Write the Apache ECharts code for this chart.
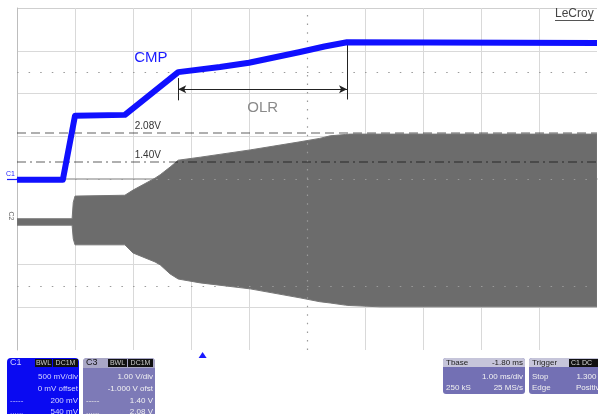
<!DOCTYPE html>
<html><head><meta charset="utf-8">
<script src="https://cdn.jsdelivr.net/npm/echarts@6/dist/echarts.min.js"></script>
<style>html,body{margin:0;padding:0;background:#fff}#c{width:598px;height:414px}</style>
</head><body><div id="c"></div>
<script>
// ---- data (time in ms from left edge of screen, 1 ms/div) ----
// C1 "CMP" trace, volts (500 mV/div, 0 offset)
const cmpTime  = [0, 0.79, 1.0, 1.86, 2.78, 3.5, 4.0, 4.88, 5.3, 5.69, 10];
const cmpVolts = [-0.01, -0.01, 0.74, 0.75, 1.25, 1.31, 1.36, 1.485, 1.55, 1.60, 1.59];
// C3 switching trace envelope, volts (1 V/div, -1 V offset)
const swTime   = [0, 0.95, 0.97, 1.0, 1.86, 2.0, 2.38, 2.47, 2.64, 2.78, 3.16, 4.02, 4.88, 5.22, 5.40, 5.66, 5.74, 6.26, 10];
const swTop    = [0.07, 0.07, 0.45, 0.60, 0.62, 0.74, 1.02, 1.10, 1.28, 1.44, 1.51, 1.68, 1.87, 1.95, 2.01, 2.04, 2.05, 2.05, 2.05];
const swBottom = [-0.08, -0.08, -0.40, -0.54, -0.54, -0.73, -0.94, -1.01, -1.22, -1.34, -1.43, -1.57, -1.78, -1.87, -1.90, -1.95, -1.96, -1.99, -1.99];
// cursor levels (C3 volts) and labels
const cursorLevels = [2.08, 1.40];
const cursorLabels = ['2.08V', '1.40V'];
// OLR annotation (time span and C1 level)
const olrStart = 2.78, olrEnd = 5.69, olrLevel = 1.05;
const triggerTime = 3.2;
// panel texts
const c1Rows = [['', '500 mV/div'], ['', '0 mV offset'], ['-----', '200 mV'], ['......', '540 mV']];
const c3Rows = [['', '1.00 V/div'], ['', '-1.000 V ofst'], ['-----', '1.40 V'], ['......', '2.08 V']];
const tbRows = [['', '1.00 ms/div'], ['250 kS', '25 MS/s']];
const trRows = [['Stop', '1.300 V'], ['Edge', 'Positive']];

const chart = echarts.init(document.getElementById('c'), null, {renderer: 'canvas'});
const font = '"Liberation Sans", Arial, sans-serif';
const T = 'rgba(0,0,0,0)';
const gridCol = '#d9d9d9';

const cmpData = cmpTime.map((t, i) => [t, cmpVolts[i]]);

const option = {
  animation: false,
  backgroundColor: '#fff',
  grid: {left: 17, top: 8, width: 580, height: 342},
  xAxis: {
    type: 'value', min: 0, max: 10, interval: 1,
    axisLabel: {show: false}, axisTick: {show: false},
    axisLine: {show: true, lineStyle: {color: '#a8a8a8', width: 1.5}},
    splitLine: {show: true, lineStyle: {color: ['#c0c0c0', gridCol, gridCol, gridCol, gridCol, T, gridCol, gridCol, gridCol, gridCol, T], width: 1}}
  },
  yAxis: [
    {type: 'value', min: -2, max: 2, interval: 0.5,
     axisLabel: {show: false}, axisTick: {show: false},
     axisLine: {show: true, lineStyle: {color: '#bdbdbd'}},
     splitLine: {show: true, lineStyle: {color: [T, gridCol, gridCol, gridCol, T, gridCol, gridCol, gridCol, '#cfcfcf'], width: 1}}},
    {type: 'value', min: -3, max: 5, interval: 1, show: false, splitLine: {show: false}}
  ],
  series: [
    // dotted graticule lines (minor-tick rows)
    {type: 'line', yAxisIndex: 0, data: [], silent: true, z: 1,
     markLine: {silent: true, symbol: 'none', label: {show: false}, animation: false,
       lineStyle: {color: '#9a9a9a', width: 1.2, type: [1.5, 10.1]},
       data: [{yAxis: 1.25}, {yAxis: -1.25}, {yAxis: 0},
              {xAxis: 5, lineStyle: {type: [1.5, 7.05], color: '#9a9a9a'}}]}},
    // C3 switching envelope
    {type: 'custom', yAxisIndex: 1, z: 2, clip: true, silent: true,
     data: [[0, 0]],
     renderItem: function (params, api) {
       const pts = [];
       for (let i = 0; i < swTime.length; i++) pts.push(api.coord([swTime[i], swTop[i]]));
       for (let i = swTime.length - 1; i >= 0; i--) pts.push(api.coord([swTime[i], swBottom[i]]));
       return {type: 'polygon', shape: {points: pts}, style: {fill: '#6c6c6c', stroke: '#767676', lineWidth: 1}};
     }},
    // cursor lines on C3
    {type: 'line', yAxisIndex: 1, data: [], silent: true, z: 4,
     markLine: {silent: true, symbol: 'none', label: {show: false}, animation: false,
       data: [
         {yAxis: cursorLevels[0], lineStyle: {color: 'rgba(0,0,0,0.42)', width: 1.6, type: [9, 5]}},
         {yAxis: cursorLevels[1], lineStyle: {color: 'rgba(0,0,0,0.42)', width: 1.6, type: [9, 4, 2, 4]}}
       ]},
     markPoint: {symbol: 'circle', symbolSize: 0, silent: true, animation: false,
       label: {show: true, color: '#333', fontFamily: font, fontSize: 10, position: 'inside', align: 'left'},
       data: cursorLevels.map((v, i) => ({coord: [2.03, v + 0.16], value: cursorLabels[i],
         label: {formatter: cursorLabels[i]}}))}},
    // C1 CMP trace
    {type: 'line', yAxisIndex: 0, z: 5, data: cmpData, showSymbol: false, silent: true,
     lineStyle: {color: '#1010ff', width: 6, join: 'round'},
     markPoint: {symbol: 'circle', symbolSize: 0, silent: true, animation: false,
       data: [
         {coord: [2.02, 1.415], value: 'CMP', label: {show: true, formatter: 'CMP', color: '#1a1aff', fontFamily: font, fontSize: 15, position: 'inside', align: 'left'}},
         {coord: [(olrStart + olrEnd) / 2, 0.83], value: 'OLR', label: {show: true, formatter: 'OLR', color: '#8a8a8a', fontFamily: font, fontSize: 15, position: 'inside', align: 'center'}}
       ]}},
    // OLR annotation lines
    {type: 'line', yAxisIndex: 0, z: 6, data: [], silent: true,
     markLine: {silent: true, label: {show: false}, animation: false,
       lineStyle: {color: '#222', width: 1, type: 'solid'},
       data: [
         [{coord: [olrStart, olrLevel], symbol: 'arrow', symbolSize: [6, 8]}, {coord: [olrEnd, olrLevel], symbol: 'arrow', symbolSize: [6, 8]}],
         [{coord: [olrStart, 1.18], symbol: 'none'}, {coord: [olrStart, 0.92], symbol: 'none'}],
         [{coord: [olrEnd, 1.57], symbol: 'none'}, {coord: [olrEnd, 0.93], symbol: 'none'}]
       ]}}
  ]
};
chart.setOption(option);

// ---------- scope chrome ----------
const g = [];
function txt(x, y, s, opt) {
  g.push({type: 'text', x: x, y: y, silent: true, z: 100,
    style: Object.assign({text: s, font: '8px ' + font, fill: '#fff', textVerticalAlign: 'middle', textAlign: 'left'}, opt || {})});
}
function rect(x, y, w, h, fill, r) {
  g.push({type: 'rect', silent: true, z: 90, shape: {x: x, y: y, width: w, height: h, r: r || 0}, style: {fill: fill}});
}
// LeCroy logo
txt(555, 14, 'LeCroy', {font: '12px ' + font, fill: '#444'});
g.push({type: 'line', silent: true, z: 100, shape: {x1: 555, y1: 20.5, x2: 594, y2: 20.5}, style: {stroke: '#555', lineWidth: 1}});
// channel markers
txt(6, 174, 'C1', {font: '7px ' + font, fill: '#1a1aff'});
g.push({type: 'line', silent: true, z: 100, shape: {x1: 7, y1: 179.5, x2: 17, y2: 179.5}, style: {stroke: '#1a1aff', lineWidth: 1.2}});
g.push({type: 'text', x: 11, y: 216, rotation: -Math.PI / 2, silent: true, z: 100,
  style: {text: 'C2', font: '7px ' + font, fill: '#666', textAlign: 'center', textVerticalAlign: 'middle'}});

// C1 panel
rect(7, 358, 72, 60, '#0a0af2', [4, 4, 0, 0]);
txt(10, 363, 'C1', {fill: '#cfd0ff', font: '9px ' + font});
rect(35, 359, 17, 8, '#111'); rect(53, 359, 25, 8, '#111');
txt(43.5, 363, 'BWL', {textAlign: 'center', font: '7px ' + font, fill: '#ccc'});
txt(65.5, 363, 'DC1M', {textAlign: 'center', font: '7px ' + font, fill: '#ccc'});
c1Rows.forEach((r, i) => { const y = 377 + i * 11.7;
  if (r[0]) txt(10, y, r[0], {fill: '#c8c8ff'});
  txt(78, y, r[1], {textAlign: 'right', fill: '#d4d4ff'}); });
// C3 panel
rect(83, 358, 72, 60, '#7d7ab7', [4, 4, 0, 0]);
rect(83, 358, 72, 10, '#a9a7c6', [4, 4, 0, 0]);
txt(86, 363, 'C3', {fill: '#111', font: '9px ' + font});
rect(108, 359, 19, 8, '#111'); rect(128, 359, 25, 8, '#111');
txt(117.5, 363, 'BWL', {textAlign: 'center', font: '7px ' + font, fill: '#ccc'});
txt(140.5, 363, 'DC1M', {textAlign: 'center', font: '7px ' + font, fill: '#ccc'});
c3Rows.forEach((r, i) => { const y = 377 + i * 11.7;
  if (r[0]) txt(86, y, r[0], {fill: '#eee'});
  txt(153, y, r[1], {textAlign: 'right', fill: '#f2f2f2'}); });
// Tbase panel
rect(443, 358, 82, 36, '#7370b4', 3);
rect(443, 358, 82, 9, '#c6c5da', [3, 3, 0, 0]);
txt(446, 362.5, 'Tbase', {fill: '#222'});
txt(523, 362.5, '-1.80 ms', {fill: '#222', textAlign: 'right'});
tbRows.forEach((r, i) => { const y = 377 + i * 10.5;
  if (r[0]) txt(446, y, r[0], {fill: '#eee'});
  txt(523, y, r[1], {textAlign: 'right', fill: '#f2f2f2'}); });
// Trigger panel
rect(529, 358, 75, 36, '#7370b4', 3);
rect(529, 358, 75, 9, '#c6c5da', [3, 3, 0, 0]);
txt(532, 362.5, 'Trigger', {fill: '#222'});
rect(569, 359, 30, 8, '#111');
txt(571, 363, 'C1 DC', {font: '7px ' + font, fill: '#ddd'});
trRows.forEach((r, i) => { const y = 377 + i * 10.5;
  txt(532, y, r[0], {fill: '#eee'});
  txt(604, y, r[1], {textAlign: 'right', fill: '#f2f2f2'}); });
// trigger position marker
const tp = chart.convertToPixel({xAxisIndex: 0}, triggerTime);
g.push({type: 'polygon', silent: true, z: 100, shape: {points: [[tp, 352], [tp - 4, 358], [tp + 4, 358]]}, style: {fill: '#1a1aff'}});

chart.setOption({graphic: {elements: g}});
</script>
</body></html>
